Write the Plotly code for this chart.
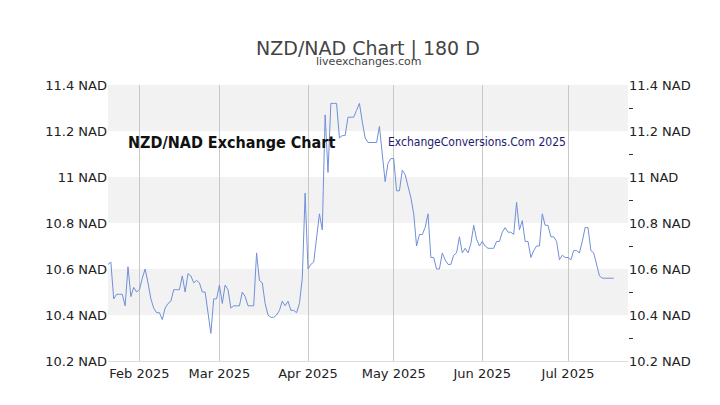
import pandas as pd
import plotly.graph_objects as go

start_date = "2025-01-21"
rates = [
    10.62, 10.63, 10.47, 10.49, 10.49, 10.49, 10.44, 10.61, 10.48, 10.52, 10.50, 10.51, 10.56, 10.60,
    10.54, 10.47, 10.43, 10.41, 10.41, 10.38, 10.43, 10.45, 10.46, 10.51, 10.51, 10.51, 10.57, 10.50,
    10.58, 10.57, 10.54, 10.55, 10.54, 10.50, 10.50, 10.41, 10.32, 10.47, 10.47, 10.53, 10.45, 10.53,
    10.51, 10.43, 10.44, 10.44, 10.44, 10.50, 10.48, 10.44, 10.44, 10.44, 10.67, 10.55, 10.54, 10.45,
    10.40, 10.39, 10.39, 10.40, 10.42, 10.46, 10.44, 10.46, 10.42, 10.42, 10.41, 10.45, 10.56, 10.93,
    10.60, 10.62, 10.63, 10.74, 10.84, 10.77, 11.27, 11.02, 11.32, 11.32, 11.32, 11.17, 11.18, 11.18,
    11.26, 11.26, 11.26, 11.29, 11.32, 11.24, 11.17, 11.15, 11.15, 11.15, 11.15, 11.22, 11.11, 10.98,
    11.06, 11.08, 11.08, 10.94, 10.94, 11.03, 11.01, 10.96, 10.91, 10.84, 10.70, 10.75, 10.75, 10.78,
    10.84, 10.65, 10.65, 10.60, 10.60, 10.67, 10.64, 10.62, 10.62, 10.66, 10.67, 10.74, 10.67, 10.69,
    10.67, 10.71, 10.79, 10.73, 10.70, 10.72, 10.70, 10.69, 10.69, 10.69, 10.72, 10.72, 10.76, 10.78,
    10.76, 10.76, 10.75, 10.89, 10.77, 10.81, 10.72, 10.72, 10.65, 10.68, 10.70, 10.70, 10.84, 10.79,
    10.79, 10.74, 10.74, 10.72, 10.64, 10.66, 10.65, 10.65, 10.64, 10.68, 10.68, 10.67, 10.72, 10.78,
    10.78, 10.68, 10.67, 10.62, 10.57, 10.56, 10.56, 10.56, 10.56, 10.56,
]
tick_vals = [10.2, 10.4, 10.6, 10.8, 11.0, 11.2, 11.4]
tick_text = ["10.2 NAD", "10.4 NAD", "10.6 NAD", "10.8 NAD", "11 NAD", "11.2 NAD", "11.4 NAD"]
bands = [(10.4, 10.6), (10.8, 11.0), (11.2, 11.4)]

dates = pd.date_range(start_date, periods=len(rates), freq="D")

fig = go.Figure()
fig.add_trace(go.Scatter(x=dates, y=rates, mode="lines",
                         line={"color": "#7090d8", "width": 1}, hoverinfo="skip"))
# invisible trace so the right axis shows
fig.add_trace(go.Scatter(x=[dates[0]], y=[rates[0]], yaxis="y2", mode="markers",
                         marker={"opacity": 0}, hoverinfo="skip"))

for lo, hi in bands:
    fig.add_hrect(y0=lo, y1=hi, fillcolor="#f2f2f2", line_width=0, layer="below")

axis_font = {"family": "DejaVu Sans", "size": 13, "color": "#222"}
yaxis_common = dict(range=[10.2, 11.4], tickvals=tick_vals, ticktext=tick_text, showgrid=False,
                    zeroline=False, tickfont=axis_font, ticks="", fixedrange=True, automargin=False)

fig.update_layout(
    width=720, height=405,
    paper_bgcolor="white", plot_bgcolor="white",
    margin={"l": 100, "r": 100, "t": 77, "b": 52},
    showlegend=False,
    title={"text": "NZD/NAD Chart | 180 D", "x": 0.5, "xanchor": "center", "y": 0.9,
           "yanchor": "middle", "font": {"family": "DejaVu Sans", "size": 19, "color": "#444"},
           "automargin": False},
    xaxis=dict(range=[pd.Timestamp("2025-01-21"), pd.Timestamp("2025-07-22")],
               tickvals=pd.to_datetime(["2025-02-01", "2025-03-01", "2025-04-01", "2025-05-01",
                                        "2025-06-01", "2025-07-01"]),
               ticktext=["Feb 2025", "Mar 2025", "Apr 2025", "May 2025", "Jun 2025", "Jul 2025"],
               showgrid=True, gridcolor="#c8c8c8", gridwidth=1, tickfont=axis_font,
               showline=True, linecolor="#ddd", zeroline=False, automargin=False),
    yaxis=yaxis_common,
    yaxis2=dict(**yaxis_common, overlaying="y", side="right",
                minor={"tickvals": [10.3, 10.5, 10.7, 10.9, 11.1, 11.3], "ticks": "outside",
                       "ticklen": 4, "tickcolor": "#333"}),
)
fig.add_annotation(text="liveexchanges.com", xref="paper", yref="paper", x=0.5, y=1.055,
                   yanchor="bottom", showarrow=False,
                   font={"family": "DejaVu Sans", "size": 11, "color": "#444"})
fig.add_annotation(text="<b>NZD/NAD Exchange Chart</b>", xref="paper", yref="y", x=0.035, y=11.2,
                   xanchor="left", yanchor="top", showarrow=False,
                   font={"family": "DejaVu Sans Condensed", "size": 16, "color": "#111"})
fig.add_annotation(text="ExchangeConversions.Com 2025", xref="paper", yref="y", x=0.535, y=11.19,
                   xanchor="left", yanchor="top", showarrow=False,
                   font={"family": "DejaVu Sans Condensed", "size": 12, "color": "#1a1a6e"})

fig.write_html("out.html")
